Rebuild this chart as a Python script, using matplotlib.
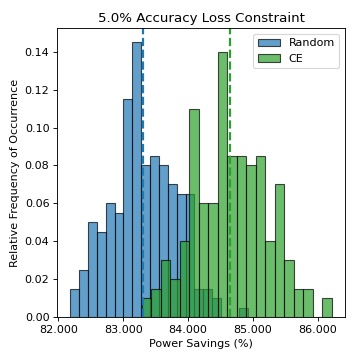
import matplotlib
matplotlib.use("Agg")
import matplotlib.pyplot as plt
import matplotlib.ticker as mticker
import numpy as np

# relative frequency per bin (20 equal bins each)
random_range = (82.185, 84.917)
random_freq = [0.015, 0.025, 0.050, 0.045, 0.060, 0.055, 0.115, 0.145, 0.080, 0.085,
               0.080, 0.070, 0.065, 0.065, 0.015, 0.015, 0.010, 0.000, 0.000, 0.005]
ce_range = (83.283, 86.215)
ce_freq = [0.010, 0.015, 0.030, 0.020, 0.040, 0.110, 0.060, 0.060, 0.140, 0.085,
           0.085, 0.080, 0.085, 0.040, 0.070, 0.030, 0.015, 0.015, 0.000, 0.010]
random_mean = 83.298
ce_mean = 84.652

fig, ax = plt.subplots(figsize=(4.5, 4.5), dpi=80)

for rng, freq, color, label in [(random_range, random_freq, "tab:blue", "Random"),
                                (ce_range, ce_freq, "tab:green", "CE")]:
    edges = np.linspace(rng[0], rng[1], len(freq) + 1)
    ax.bar(edges[:-1], freq, width=np.diff(edges), align="edge", color=color,
           alpha=0.7, edgecolor="black", linewidth=1, label=label)

ax.axvline(random_mean, color="tab:blue", ls="--", lw=2)
ax.axvline(ce_mean, color="tab:green", ls="--", lw=2)

ax.xaxis.set_major_locator(mticker.MultipleLocator(1))
ax.xaxis.set_major_formatter(mticker.FormatStrFormatter("%.3f"))
ax.set_xlabel("Power Savings (%)")
ax.set_ylabel("Relative Frequency of Occurrence")
ax.set_title("5.0% Accuracy Loss Constraint")
ax.legend(loc="upper right")

fig.subplots_adjust(left=0.159, right=0.958, bottom=0.119, top=0.921)
fig.savefig("out.png", dpi=80)
plt.close(fig)
